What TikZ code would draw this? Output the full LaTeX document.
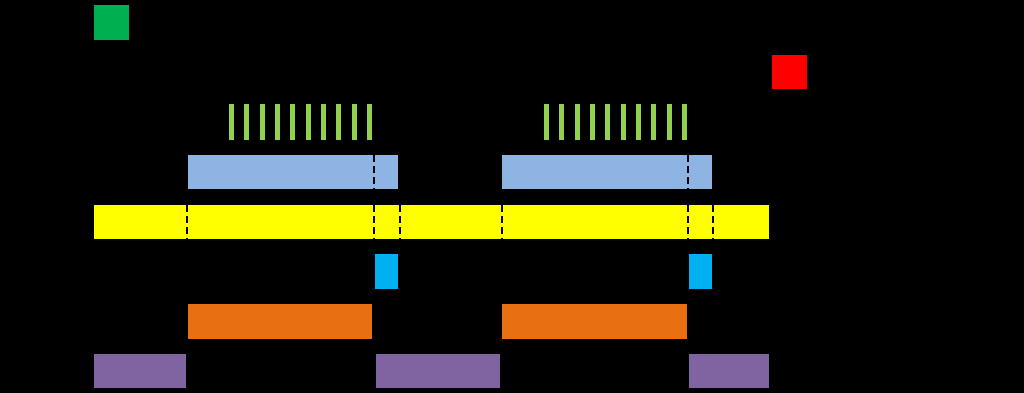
\documentclass[tikz,border=0pt]{standalone}
\definecolor{cgreen}{HTML}{00B050}
\definecolor{cred}{HTML}{FF0000}
\definecolor{ctick}{HTML}{92D050}
\definecolor{cblue}{HTML}{8EB4E3}
\definecolor{cyell}{HTML}{FFFF00}
\definecolor{ccyan}{HTML}{00B0F0}
\definecolor{corange}{HTML}{E97012}
\definecolor{cpurple}{HTML}{8064A2}
\tikzset{
  cut/.style={black, line width=1.3pt, dash pattern=on 7pt off 4pt},
}
\begin{document}
\begin{tikzpicture}[x=1pt,y=-1pt]
\fill[black] (0,0) rectangle (1024,393);
\useasboundingbox (0,0) rectangle (1024,393);
% squares
\fill[cgreen] (94,5) rectangle (129,40);
\fill[cred] (772,55) rectangle (807,89);
% ticks
\foreach \s in {229,544}{
  \foreach \i in {0,...,9}{
    \fill[ctick] ({\s+15.35*\i},104) rectangle ({\s+15.35*\i+5},140);
  }
}
% blue
\fill[cblue] (188,155) rectangle (398,189);
\fill[cblue] (502,155) rectangle (712,189);
\draw[cut] (374,155) -- (374,189);
\draw[cut] (688,155) -- (688,189);
% yellow
\fill[cyell] (94,205) rectangle (769,239);
\foreach \x in {187,374,400,502,688,713}{
  \draw[cut] (\x,205) -- (\x,239);
}
% cyan
\fill[ccyan] (375,254) rectangle (398,289);
\fill[ccyan] (689,254) rectangle (712,289);
% orange
\fill[corange] (188,304) rectangle (372,339);
\fill[corange] (502,304) rectangle (687,339);
% purple
\fill[cpurple] (94,354) rectangle (186,388);
\fill[cpurple] (376,354) rectangle (500,388);
\fill[cpurple] (689,354) rectangle (769,388);
\end{tikzpicture}
\end{document}
